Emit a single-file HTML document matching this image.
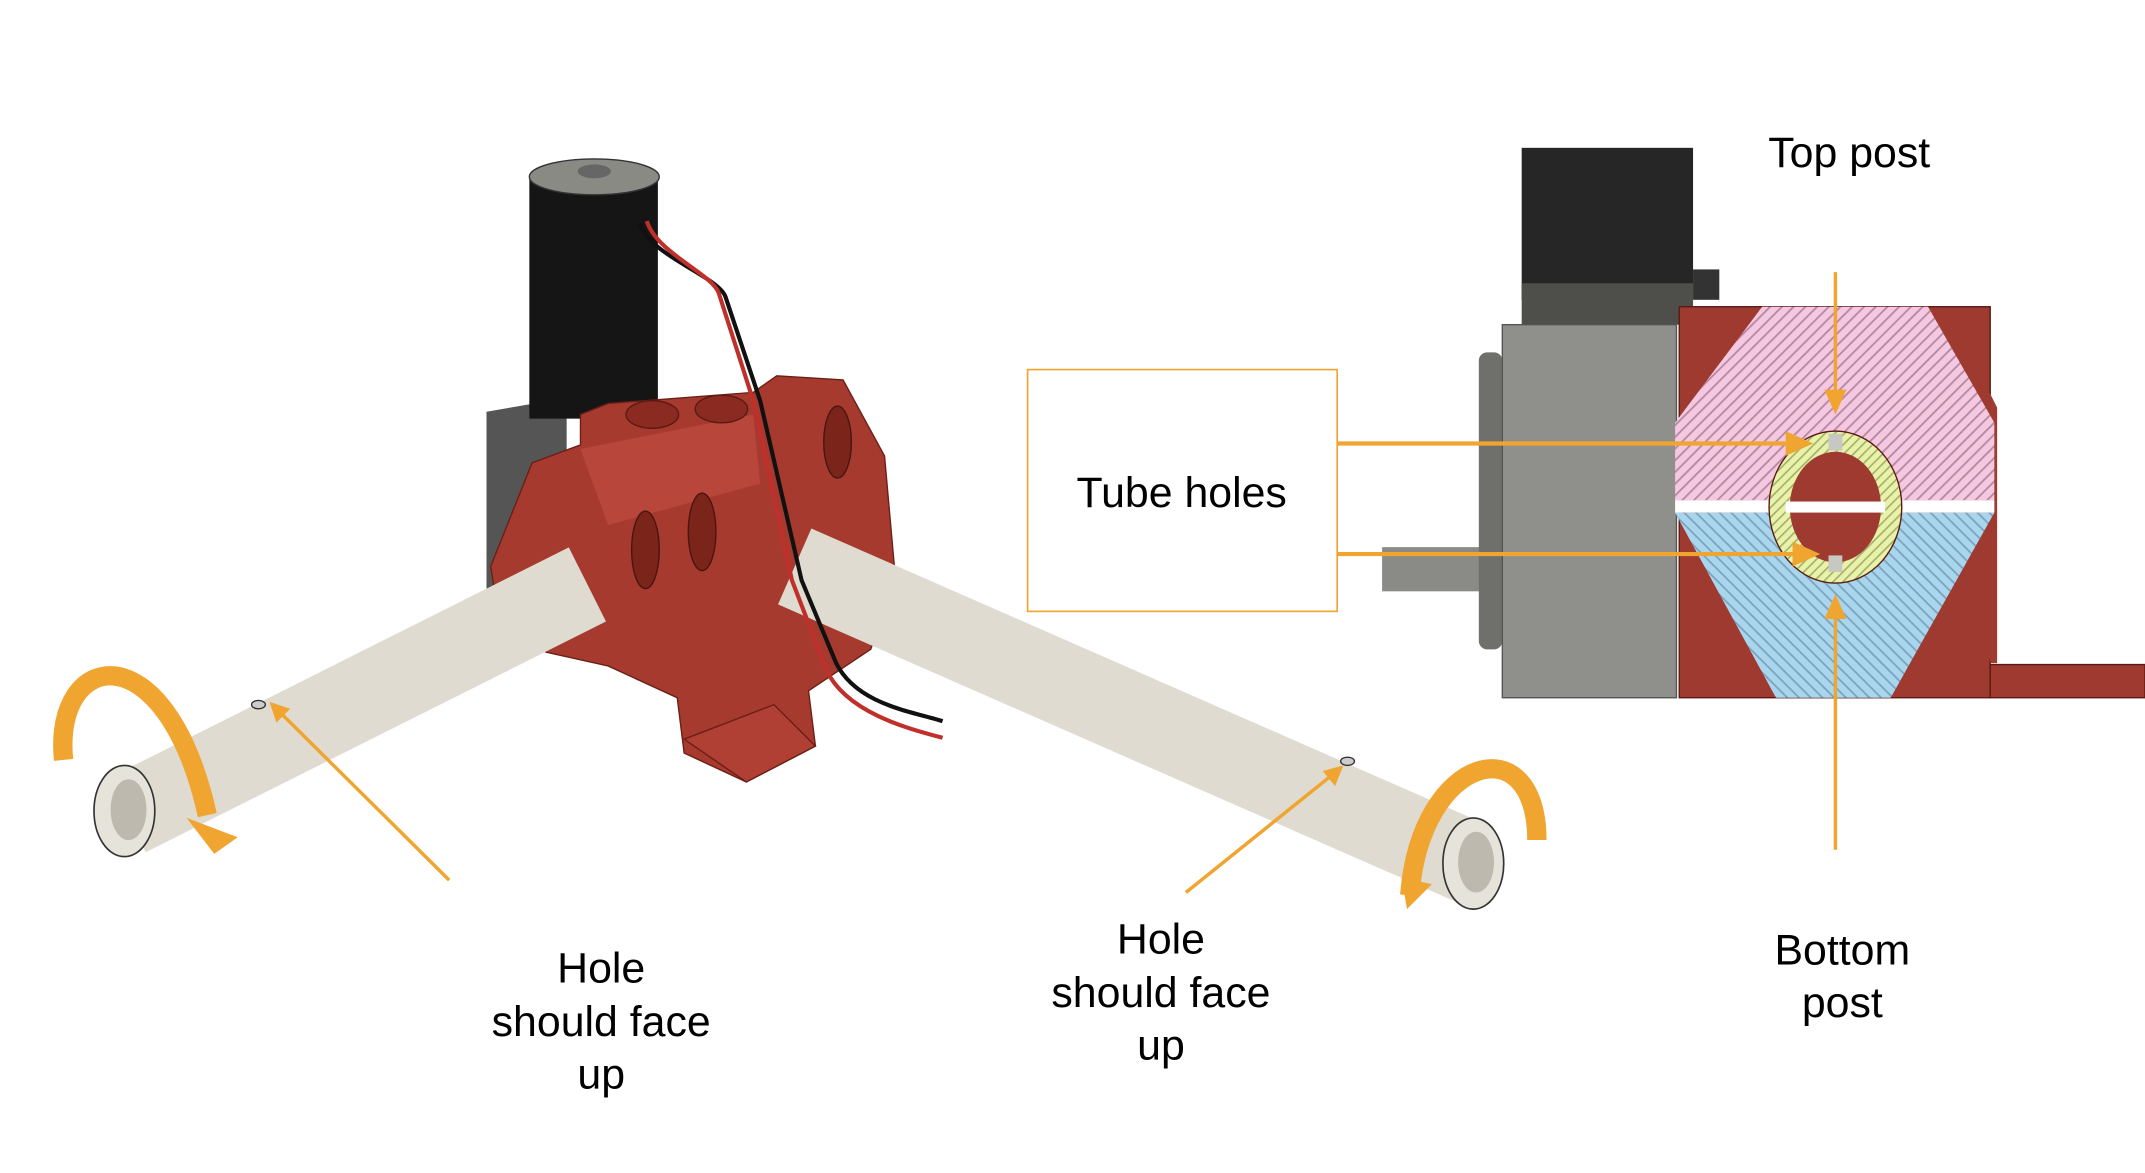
<!DOCTYPE html>
<html><head><meta charset="utf-8"><style>
html,body{margin:0;padding:0;background:#fff;}
svg{display:block;}
text{font-family:"Liberation Sans",Arial,sans-serif;fill:#000;}
</style></head><body>
<svg width="2145" height="1173" viewBox="0 0 1552 849" preserveAspectRatio="none" xmlns="http://www.w3.org/2000/svg">
<defs>
<pattern id="hp" width="6" height="6" patternUnits="userSpaceOnUse" patternTransform="rotate(-45)">
<rect width="6" height="6" fill="#f6c7e0"/><rect width="6" height="1.3" fill="#b08aa0"/></pattern>
<pattern id="hb" width="6" height="6" patternUnits="userSpaceOnUse" patternTransform="rotate(45)">
<rect width="6" height="6" fill="#a9d6ef"/><rect width="6" height="1.3" fill="#7da3ba"/></pattern>
<pattern id="hy" width="5" height="5" patternUnits="userSpaceOnUse" patternTransform="rotate(-45)">
<rect width="5" height="5" fill="#e8f2a8"/><rect width="5" height="1.2" fill="#a5b070"/></pattern>
</defs>

<!-- LEFT 3D -->
<polygon points="352,298 410,288 410,445 352,445" fill="#555"/>
<rect x="383" y="128" width="93" height="175" fill="#151515"/>
<ellipse cx="430" cy="128" rx="47" ry="13" fill="#8a8a85" stroke="#333"/>
<ellipse cx="430" cy="124" rx="12" ry="5" fill="#666"/>
<polygon points="355,410 385,335 420,322 420,300 440,292 545,284 562,272 610,275 640,330 648,420 630,470 585,500 590,540 540,566 495,545 490,505 440,482 395,472 360,440" fill="#a63a2e" stroke="#6a1f17"/>
<polygon points="420,325 545,300 550,350 440,380" fill="#b8463a"/>
<ellipse cx="472" cy="300" rx="19" ry="10" fill="#8a2a20" stroke="#5a1a12"/>
<ellipse cx="522" cy="296" rx="19" ry="10" fill="#8a2a20" stroke="#5a1a12"/>
<ellipse cx="467" cy="398" rx="10" ry="28" fill="#7a241a" stroke="#4a1510"/>
<ellipse cx="508" cy="385" rx="10" ry="28" fill="#7a241a" stroke="#4a1510"/>
<ellipse cx="606" cy="320" rx="10" ry="26" fill="#7a241a" stroke="#4a1510"/>
<polygon points="495,535 560,510 590,540 540,566" fill="#b04034" stroke="#6a1f17"/>
<!-- tubes -->
<line x1="92" y1="590" x2="425" y2="423" stroke="#dfdbd0" stroke-width="60"/>
<ellipse cx="90" cy="587" rx="22" ry="33" fill="#e6e3da" stroke="#333" stroke-width="1.2"/>
<ellipse cx="93" cy="586" rx="13" ry="22" fill="#bdb9ae"/>
<line x1="575" y1="410" x2="1065" y2="625" stroke="#dfdbd0" stroke-width="60"/>
<ellipse cx="1066" cy="625" rx="22" ry="33" fill="#e6e3da" stroke="#333" stroke-width="1.2"/>
<ellipse cx="1068" cy="624" rx="13" ry="22" fill="#bdb9ae"/>
<ellipse cx="187" cy="510" rx="5" ry="3" fill="#ccc" stroke="#333"/>
<ellipse cx="975" cy="551" rx="5" ry="3" fill="#ccc" stroke="#333"/>
<!-- wires -->
<path d="M463,162 C470,185 520,200 525,215 L550,290 L580,420 L605,480 C620,510 660,515 682,522" fill="none" stroke="#111" stroke-width="3"/>
<path d="M468,160 C475,183 515,198 520,212 L545,290 L573,420 L598,485 C612,515 655,527 682,534" fill="none" stroke="#c0302a" stroke-width="3"/>
<!-- rotation arrows -->
<path d="M46,550 C38,470 120,455 150,590" fill="none" stroke="#f0a530" stroke-width="14"/>
<polygon points="135,592 172,606 155,618" fill="#f0a530"/>
<path d="M1020,648 C1028,545 1112,525 1112,608" fill="none" stroke="#f0a530" stroke-width="14"/>
<polygon points="1014,635 1036,640 1018,658" fill="#f0a530"/>
<!-- annotation lines -->
<line x1="325" y1="637" x2="201" y2="514" stroke="#f0a530" stroke-width="2.5"/>
<polygon points="195,508 210,513 200,523" fill="#f0a530"/>
<line x1="858" y1="646" x2="965" y2="560" stroke="#f0a530" stroke-width="2.5"/>
<polygon points="972,554 966,569 957,558" fill="#f0a530"/>

<!-- RIGHT SECTION -->
<rect x="1101" y="107" width="124" height="110" fill="#262626"/>
<rect x="1225" y="195" width="19" height="22" fill="#333"/>
<rect x="1101" y="205" width="124" height="30" fill="#4e4e4a"/>
<rect x="1000" y="396" width="87" height="32" fill="#8a8a86"/>
<rect x="1070" y="255" width="17" height="215" rx="6" fill="#6f6f6b"/>
<rect x="1087" y="235" width="126" height="270" fill="#8f8f8b" stroke="#555"/>
<rect x="1215" y="222" width="225" height="283" fill="#9e3a30" stroke="#5a1a12"/>
<polygon points="1405,222 1440,285 1445,295 1445,480 1440,480" fill="#9e3a30"/>
<rect x="1440" y="481" width="112" height="24" fill="#9e3a30" stroke="#5a1a12"/>
<polygon points="1275,222 1395,222 1443,306 1443,362 1212,362 1212,306" fill="url(#hp)"/>
<polygon points="1212,371 1443,371 1368,505 1285,505" fill="url(#hb)"/>
<rect x="1212" y="362" width="231" height="9" fill="#fff"/>
<ellipse cx="1328" cy="367" rx="48" ry="55" fill="url(#hy)" stroke="#5a1a12"/>
<ellipse cx="1328" cy="367" rx="33" ry="40" fill="#9e3a30"/>
<rect x="1292" y="363" width="72" height="8" fill="#fff"/>
<rect x="1323" y="314" width="10" height="12" fill="#c8c8c2"/>
<rect x="1323" y="402" width="10" height="12" fill="#c8c8c2"/>
<!-- arrows right -->
<line x1="1328" y1="197" x2="1328" y2="285" stroke="#f0a530" stroke-width="2.5"/>
<polygon points="1320,282 1336,282 1328,300" fill="#f0a530"/>
<line x1="1328" y1="615" x2="1328" y2="445" stroke="#f0a530" stroke-width="2.5"/>
<polygon points="1320,448 1336,448 1328,430" fill="#f0a530"/>
<line x1="968" y1="321" x2="1295" y2="321" stroke="#f0a530" stroke-width="3"/>
<polygon points="1292,312 1312,321 1292,330" fill="#f0a530"/>
<line x1="968" y1="401" x2="1300" y2="401" stroke="#f0a530" stroke-width="3"/>
<polygon points="1297,392 1317,401 1297,410" fill="#f0a530"/>
<rect x="743.5" y="267.5" width="224" height="175" fill="#fff" stroke="#f0a530" stroke-width="1.2"/>

<!-- labels -->
<text x="855" y="367" font-size="31" text-anchor="middle">Tube holes</text>
<text x="1338" y="121" font-size="31" text-anchor="middle">Top post</text>
<text x="1333" y="698" font-size="31" text-anchor="middle">Bottom</text>
<text x="1333" y="736" font-size="31" text-anchor="middle">post</text>
<text x="435" y="711" font-size="31" text-anchor="middle">Hole</text>
<text x="435" y="750" font-size="31" text-anchor="middle">should face</text>
<text x="435" y="788" font-size="31" text-anchor="middle">up</text>
<text x="840" y="690" font-size="31" text-anchor="middle">Hole</text>
<text x="840" y="729" font-size="31" text-anchor="middle">should face</text>
<text x="840" y="767" font-size="31" text-anchor="middle">up</text>
</svg>
</body></html>
